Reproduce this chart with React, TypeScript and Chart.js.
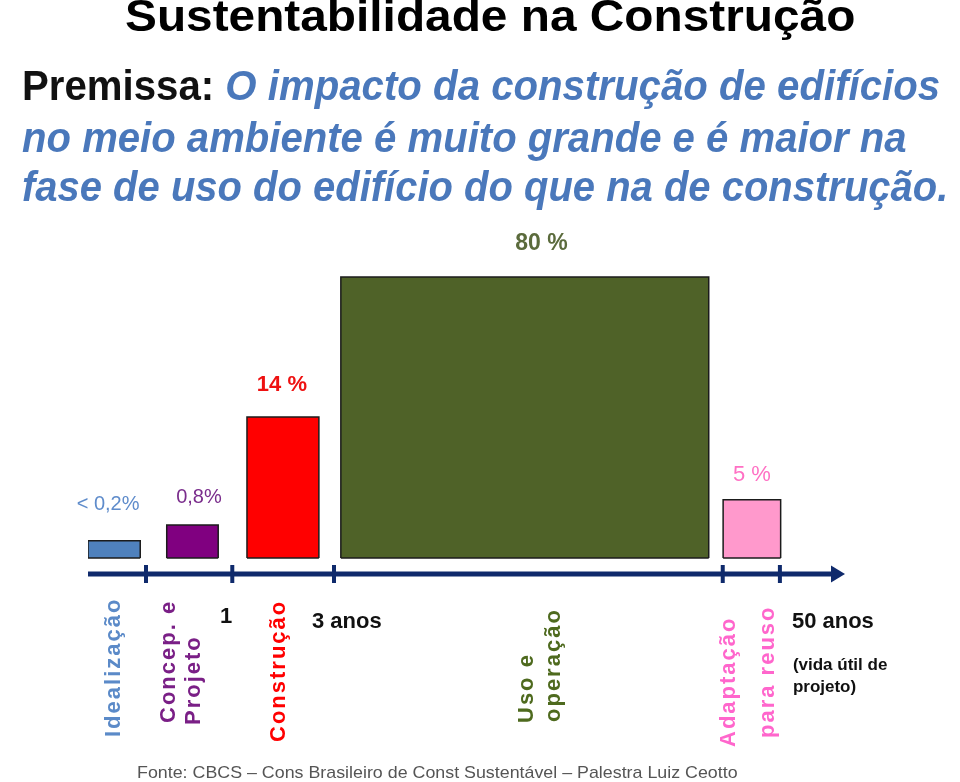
import React, { useEffect, useLayoutEffect, useRef } from 'react';
import { Chart, registerables } from 'chart.js';

Chart.register(...registerables);

// ---------- data ----------
const phases: string[][] = [
  ['Idealização'],
  ['Concep. e', 'Projeto'],
  ['Construção'],
  ['Uso e', 'operação'],
  ['Adaptação', 'para reuso'],
];
const impactLabels = ['< 0,2%', '0,8%', '14 %', '80 %', '5 %'];
// bar extents along the (not-to-scale) timeline, 0 = start, 100 = arrow tip
const barStart = [0, 10.4, 21.0, 33.4, 83.9];
const barEnd = [6.9, 17.2, 30.5, 82.0, 91.5];
// drawn bar heights (illustrative, not proportional to the percentages)
const barHeight = [4.9, 9.4, 40.3, 80.3, 16.6];
const timelineTicks = [7.66, 19.06, 32.5, 83.85, 91.4];
const timelineTickLabels = ['', '1', '3 anos', '', '50 anos'];
const lifeNote = ['(vida útil de', 'projeto)'];

const titleText = 'Sustentabilidade na Construção';
const premiseLead = 'Premissa:';
const premiseLines = [
  'O impacto da construção de edifícios',
  'no meio ambiente é muito grande e é maior na',
  'fase de uso do edifício do que na de construção.',
];
const sourceText = 'Fonte: CBCS – Cons Brasileiro de Const Sustentável – Palestra Luiz Ceotto';

// ---------- styles ----------
const FONT = '"Liberation Sans", Arial, Helvetica, sans-serif';
const navy = '#0f2a6c';
const barBorder = '#1b1b1b';
const barColors = ['#4f81bd', '#800080', '#ff0000', '#4f6228', '#ff99cc'];
const phaseColors = ['#5b8ac8', '#7a1f86', '#ff0000', '#4e6a1e', '#ff66cc'];
const pctColors = ['#5f8ccb', '#7a2d8c', '#ee1111', '#5b6b3c', '#ff70c4'];
const pctFonts = [
  `20px ${FONT}`,
  `20px ${FONT}`,
  `bold 22px ${FONT}`,
  `bold 23px ${FONT}`,
  `22px ${FONT}`,
];
const pctDx = [-6, 6.5, -1, 16.7, 0];
const pctGap = [31, 22, 26, 27, 19];
const phaseLineDx = [[6], [-17, 8], [2], [8, 35], [-17, 22]];
const phaseLineBottom = [[163], [149, 151], [168], [149, 148], [173, 164]];
const tickLabelStyle = [
  null,
  { align: 'right', dx: 0, dy: 49 },
  { align: 'left', dx: -22, dy: 54 },
  null,
  { align: 'left', dx: 12, dy: 54 },
];

const overlayPlugin = {
  id: 'overlay',
  afterDatasetsDraw(chart: any) {
    const { ctx, chartArea, scales } = chart;
    const xs = scales.x;
    const ys = scales.y;
    const ty = chartArea.bottom;
    ctx.save();

    // bottom edge of each bar
    ctx.strokeStyle = barBorder;
    ctx.lineWidth = 1.5;
    phases.forEach((_, i) => {
      const y0 = ys.getPixelForValue(0);
      ctx.beginPath();
      ctx.moveTo(xs.getPixelForValue(barStart[i]), y0);
      ctx.lineTo(xs.getPixelForValue(barEnd[i]), y0);
      ctx.stroke();
    });

    // timeline arrow
    const x0 = xs.getPixelForValue(0);
    const x1 = xs.getPixelForValue(100);
    ctx.strokeStyle = navy;
    ctx.fillStyle = navy;
    ctx.lineWidth = 5;
    ctx.beginPath();
    ctx.moveTo(x0, ty);
    ctx.lineTo(x1 - 12, ty);
    ctx.stroke();
    ctx.beginPath();
    ctx.moveTo(x1, ty);
    ctx.lineTo(x1 - 14, ty - 8.5);
    ctx.lineTo(x1 - 14, ty + 8.5);
    ctx.closePath();
    ctx.fill();

    // ticks + labels
    ctx.lineWidth = 4;
    timelineTicks.forEach((t, i) => {
      const px = xs.getPixelForValue(t);
      ctx.beginPath();
      ctx.moveTo(px, ty - 9);
      ctx.lineTo(px, ty + 9);
      ctx.stroke();
      const st = tickLabelStyle[i];
      if (st && timelineTickLabels[i]) {
        ctx.fillStyle = '#111';
        ctx.font = `bold 22px ${FONT}`;
        ctx.textAlign = st.align;
        ctx.textBaseline = 'alphabetic';
        ctx.fillText(timelineTickLabels[i], px + st.dx, ty + st.dy);
      }
    });

    // life note under last tick
    const lastPx = xs.getPixelForValue(timelineTicks[timelineTicks.length - 1]);
    ctx.fillStyle = '#111';
    ctx.font = `bold 17px ${FONT}`;
    ctx.textAlign = 'left';
    lifeNote.forEach((l, i) => ctx.fillText(l, lastPx + 13, ty + 96 + i * 22));

    // percentage labels above bars & rotated phase labels
    phases.forEach((lines, i) => {
      const cx = (xs.getPixelForValue(barStart[i]) + xs.getPixelForValue(barEnd[i])) / 2;
      const top = ys.getPixelForValue(barHeight[i]);
      ctx.fillStyle = pctColors[i];
      ctx.font = pctFonts[i];
      ctx.textAlign = 'center';
      ctx.textBaseline = 'alphabetic';
      ctx.fillText(impactLabels[i], cx + pctDx[i], top - pctGap[i]);

      lines.forEach((line, j) => {
        ctx.save();
        ctx.translate(cx + phaseLineDx[i][j], ty + phaseLineBottom[i][j]);
        ctx.rotate(-Math.PI / 2);
        ctx.fillStyle = phaseColors[i];
        ctx.font = `bold 22px ${FONT}`;
        (ctx as any).letterSpacing = '2px';
        ctx.textAlign = 'left';
        ctx.textBaseline = 'alphabetic';
        ctx.fillText(line, 0, 0);
        ctx.restore();
      });
    });
    ctx.restore();
  },
};

function ChartCanvas() {
  const ref = useRef<HTMLCanvasElement | null>(null);
  useEffect(() => {
    if (!ref.current) return;
    const chart = new Chart(ref.current, {
      type: 'line',
      data: {
        datasets: phases.map((p, i) => ({
          label: p.join(' '),
          data: [
            { x: barStart[i], y: 0 },
            { x: barStart[i], y: barHeight[i] },
            { x: barEnd[i], y: barHeight[i] },
            { x: barEnd[i], y: 0 },
          ],
          fill: 'origin',
          backgroundColor: barColors[i],
          borderColor: barBorder,
          borderWidth: 1.5,
          pointRadius: 0,
          tension: 0,
        })),
      },
      options: {
        responsive: false,
        animation: false,
        devicePixelRatio: 1,
        events: [],
        layout: { padding: { left: 88, right: 115, top: 208, bottom: 208 } },
        scales: {
          x: { type: 'linear', min: 0, max: 100, display: false },
          y: { type: 'linear', min: -4.6, max: 100, display: false },
        },
        plugins: { legend: { display: false }, tooltip: { enabled: false } },
      },
      plugins: [overlayPlugin],
    } as any);
    return () => chart.destroy();
  }, []);
  return (
    <canvas
      ref={ref}
      width={960}
      height={782}
      style={{ position: 'absolute', left: 0, top: 0, width: 960, height: 782 }}
    />
  );
}

function Line(props: { left: number; baseline: number; size: number; width: number; children: any; style?: any }) {
  const { left, baseline, size, width, children, style } = props;
  return (
    <div
      data-fit={width}
      style={{
        position: 'absolute',
        left,
        top: baseline - 0.8465 * size,
        fontSize: size,
        lineHeight: 1,
        fontFamily: FONT,
        whiteSpace: 'nowrap',
        transformOrigin: '0 0',
        ...style,
      }}
    >
      {children}
    </div>
  );
}

export default function App() {
  const wrap = useRef<HTMLDivElement | null>(null);
  useLayoutEffect(() => {
    if (!wrap.current) return;
    wrap.current.querySelectorAll<HTMLElement>('[data-fit]').forEach((el) => {
      const w = Number(el.dataset.fit);
      const ow = el.offsetWidth;
      if (ow > 0) el.style.transform = `scaleX(${w / ow})`;
    });
  }, []);
  return (
    <div
      ref={wrap}
      style={{ position: 'absolute', left: 0, top: 0, width: 960, height: 782, overflow: 'hidden', background: '#fff' }}
    >
      <ChartCanvas />
      <Line left={125} baseline={31} size={44} width={730} style={{ fontWeight: 'bold', color: '#000' }}>
        {titleText}
      </Line>
      <Line left={22} baseline={100} size={43} width={918} style={{ fontWeight: 'bold' }}>
        <span style={{ color: '#111' }}>{premiseLead} </span>
        <span style={{ color: '#4a78bb', fontStyle: 'italic' }}>{premiseLines[0]}</span>
      </Line>
      <Line left={22} baseline={152} size={43} width={885} style={{ fontWeight: 'bold', fontStyle: 'italic', color: '#4a78bb' }}>
        {premiseLines[1]}
      </Line>
      <Line left={22} baseline={201} size={43} width={926} style={{ fontWeight: 'bold', fontStyle: 'italic', color: '#4a78bb' }}>
        {premiseLines[2]}
      </Line>
      <Line left={137} baseline={778} size={17} width={601} style={{ color: '#555' }}>
        {sourceText}
      </Line>
    </div>
  );
}
